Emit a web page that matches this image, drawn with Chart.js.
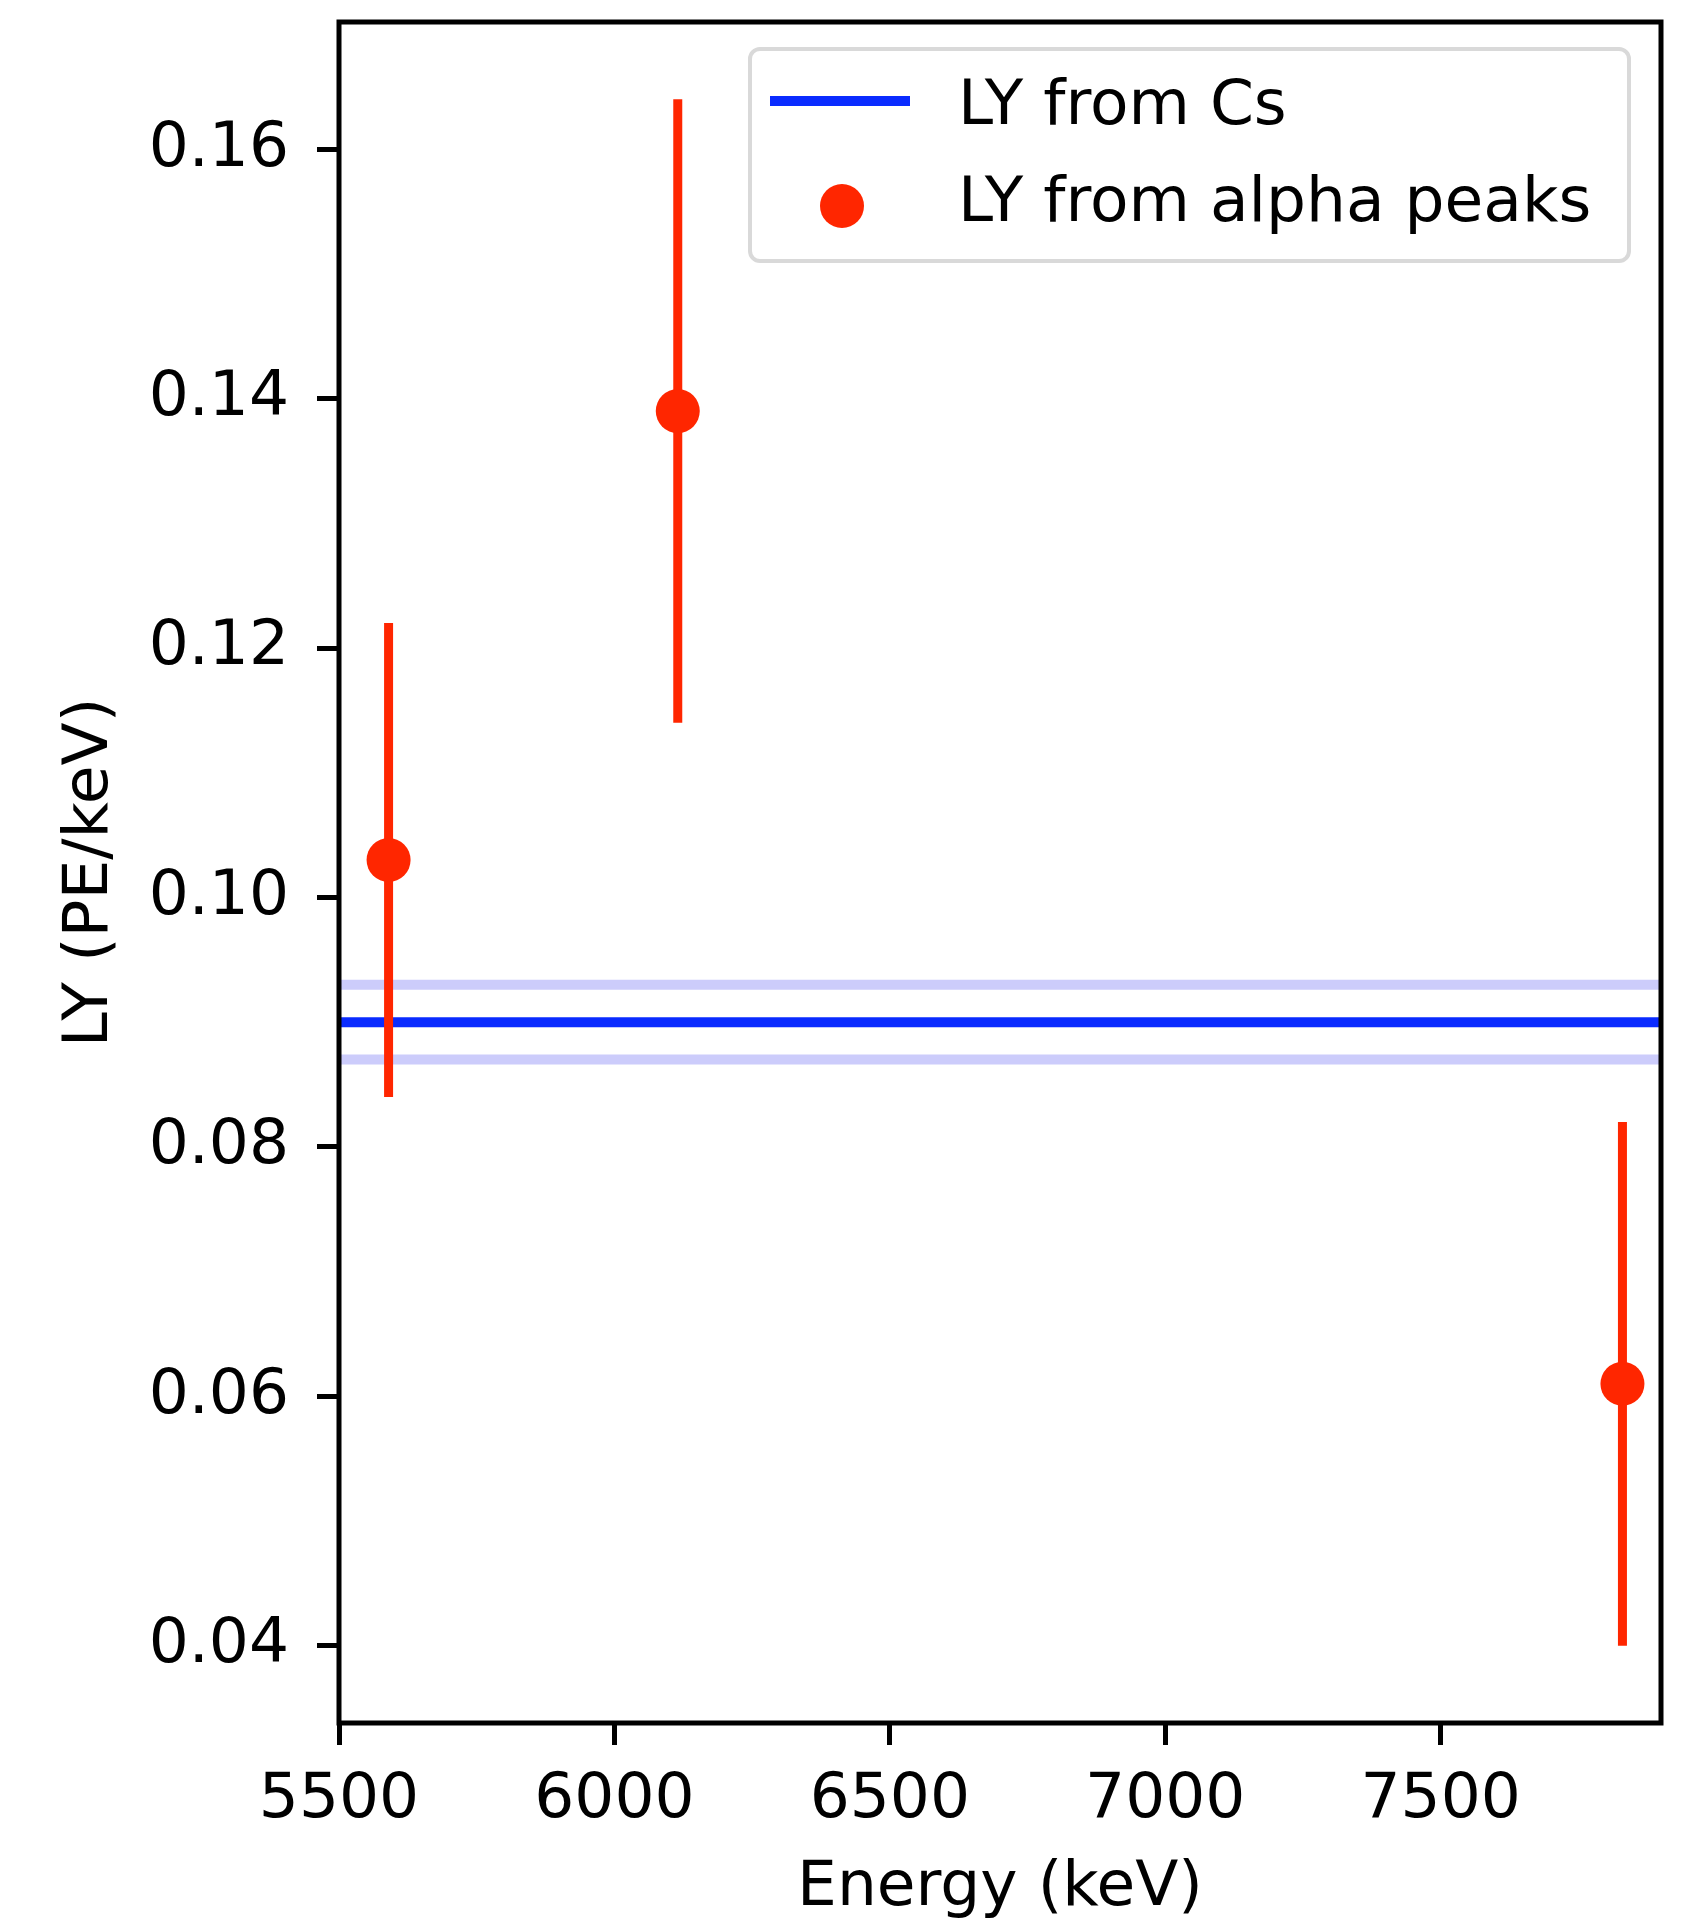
<!DOCTYPE html>
<html>
<head>
<meta charset="utf-8">
<script src="https://cdn.jsdelivr.net/npm/chart.js@4/dist/chart.umd.min.js"></script>
<style>
    body { margin: 0; background: white; }
    #cadre { width: 1687px; height: 1922px; }
</style>
</head>
<body>
<div id="cadre"><canvas id="canvasLY"></canvas></div>
<script>
// alpha peak points (energy in keV, LY in PE/keV, error)
const energies = [5590, 6115, 7830]
const lyAlpha = [0.103, 0.139, 0.061]
const lyAlphaErr = [0.019, 0.025, 0.021]
// LY from Cs with its band
const lyCs = [0.090]
const lyCsErr = [0.003]
const xLimits = [5500, 7900]
const yLimits = [0.0338, 0.1702]
const xTicks = [5500, 6000, 6500, 7000, 7500]
const yTicks = [0.04, 0.06, 0.08, 0.10, 0.12, 0.14, 0.16]
const legendLabels = ["LY from Cs", "LY from alpha peaks"]

const rouge = "#ff2600"
const bleu = "#0a2bff"
const bleuClair = "#ccccfb"
const police = "DejaVu Sans"
const taillePolice = 63

// horizontal line over the whole x range
function ligneH(y, couleur, largeur, ordre) {
    return {
        type: 'line',
        data: [{x: xLimits[0], y: y}, {x: xLimits[1], y: y}],
        borderColor: couleur,
        borderWidth: largeur,
        pointRadius: 0,
        showLine: true,
        order: ordre
    }
}

let datasets = []
datasets.push({
    type: 'scatter',
    data: energies.map((e, i) => ({x: e, y: lyAlpha[i]})),
    backgroundColor: rouge,
    borderWidth: 0,
    pointRadius: 22,
    order: 0
})
// error bars as small vertical lines
for (let i = 0; i < energies.length; i++) {
    datasets.push({
        type: 'line',
        data: [{x: energies[i], y: lyAlpha[i] - lyAlphaErr[i]}, {x: energies[i], y: lyAlpha[i] + lyAlphaErr[i]}],
        borderColor: rouge,
        borderWidth: 9,
        pointRadius: 0,
        showLine: true,
        order: 1
    })
}
datasets.push(ligneH(lyCs[0], bleu, 10, 2))
datasets.push(ligneH(lyCs[0] + lyCsErr[0], bleuClair, 10, 3))
datasets.push(ligneH(lyCs[0] - lyCsErr[0], bleuClair, 10, 3))

// frame + legend drawn on top
const cadrePlugin = {
    id: 'cadre',
    afterDraw(chart) {
        let ctx = chart.ctx
        let a = chart.chartArea
        ctx.save()
        ctx.strokeStyle = "black"
        ctx.lineWidth = 5
        ctx.strokeRect(a.left, a.top, a.right - a.left, a.bottom - a.top)

        // legend box
        let lx = 750, ly = 49, lw = 879, lh = 212
        ctx.beginPath()
        ctx.roundRect(lx, ly, lw, lh, 10)
        ctx.fillStyle = "rgba(255,255,255,0.8)"
        ctx.fill()
        ctx.strokeStyle = "#d9d9d9"
        ctx.lineWidth = 4
        ctx.stroke()

        ctx.strokeStyle = bleu
        ctx.lineWidth = 10
        ctx.beginPath()
        ctx.moveTo(770, 101)
        ctx.lineTo(910, 101)
        ctx.stroke()

        ctx.fillStyle = rouge
        ctx.beginPath()
        ctx.arc(842, 206, 22, 0, 2 * Math.PI)
        ctx.fill()

        ctx.fillStyle = "black"
        ctx.font = taillePolice + "px '" + police + "'"
        ctx.textBaseline = "alphabetic"
        ctx.fillText(legendLabels[0], 958, 124)
        ctx.fillText(legendLabels[1], 958, 221)
        ctx.restore()
    }
}

new Chart(document.getElementById("canvasLY"), {
    type: 'scatter',
    data: { datasets: datasets },
    plugins: [cadrePlugin],
    options: {
        responsive: true,
        maintainAspectRatio: false,
        animation: false,
        events: [],
        layout: { padding: { top: 13, right: 26, left: 0, bottom: 0 } },
        plugins: {
            legend: { display: false },
            tooltip: { enabled: false }
        },
        scales: {
            x: {
                type: 'linear',
                min: xLimits[0],
                max: xLimits[1],
                afterBuildTicks: function(scale) {
                    scale.ticks = xTicks.map(v => ({value: v}))
                },
                afterFit: function(scale) {
                    scale.height = 199
                    scale.paddingLeft = 0
                    scale.paddingRight = 0
                },
                border: { display: false },
                grid: { drawOnChartArea: false, drawTicks: true, tickLength: 22, tickWidth: 5, tickColor: "black" },
                ticks: {
                    color: "black",
                    padding: 18,
                    maxRotation: 0,
                    font: { family: police, size: taillePolice },
                    callback: function(value) { return String(value) }
                },
                title: {
                    display: true,
                    text: "Energy (keV)",
                    color: "black",
                    padding: { top: 0, bottom: 2 },
                    font: { family: police, size: taillePolice, lineHeight: 1.0 }
                }
            },
            y: {
                type: 'linear',
                min: yLimits[0],
                max: yLimits[1],
                afterBuildTicks: function(scale) {
                    scale.ticks = yTicks.map(v => ({value: v}))
                },
                afterFit: function(scale) {
                    scale.width = 339
                    scale.paddingTop = 0
                    scale.paddingBottom = 0
                },
                border: { display: false },
                grid: { drawOnChartArea: false, drawTicks: true, tickLength: 22, tickWidth: 5, tickColor: "black" },
                ticks: {
                    color: "black",
                    padding: 28,
                    font: { family: police, size: taillePolice },
                    callback: function(value) { return value.toFixed(2) }
                },
                title: {
                    display: true,
                    text: "LY (PE/keV)",
                    color: "black",
                    padding: { top: 53, bottom: 0 },
                    font: { family: police, size: taillePolice, lineHeight: 1.2 }
                }
            }
        }
    }
})
</script>
</body>
</html>
